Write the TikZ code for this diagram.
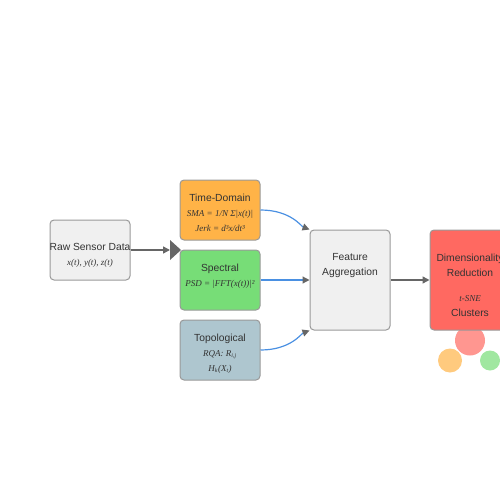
\documentclass[tikz,border=0pt]{standalone}
\usepackage{fontspec}
\setmainfont{Liberation Sans}
\newfontfamily\formfont{Liberation Serif}
\usetikzlibrary{positioning, calc, arrows.meta, backgrounds}

\definecolor{boxgray}{HTML}{F0F0F0}
\definecolor{edgegray}{HTML}{999999}
\definecolor{arrowgray}{HTML}{666666}
\definecolor{flowblue}{HTML}{4A90E2}
\definecolor{timeorange}{HTML}{FFB347}
\definecolor{specgreen}{HTML}{77DD77}
\definecolor{topoblue}{HTML}{AEC6CF}
\definecolor{dimred}{HTML}{FF6961}
\definecolor{textgray}{HTML}{333333}

\begin{document}
\begin{tikzpicture}[x=1pt, y=-1pt,
	box/.style={draw=edgegray, line width=1pt, rounded corners=4pt, minimum width=80pt, minimum height=60pt, inner sep=0pt},
	tallbox/.style={box, minimum height=100pt},
	label/.style={anchor=north, align=center, inner sep=0pt, text=textgray, font=\fontsize{10.3}{15}\selectfont},
	link/.style={draw=arrowgray, line width=1.5pt, -{Triangle[length=7pt, width=7pt]}},
	flow/.style={draw=flowblue, line width=1.2pt, -{Triangle[length=7pt, width=7pt, color=arrowgray]}},
	blob/.style={opacity=0.7}]
			\newcommand{\fm}[1]{{\formfont\itshape\fontsize{9}{15}\selectfont #1}}
			\clip (0,0) rectangle (500,500);
			
			% Draw boxes
			\node[box, fill=boxgray] (raw) at (90,250) {};
			\node[box, fill=timeorange] (time) at (220,210) {};
			\node[box, fill=specgreen] (spec) at (220,280) {};
			\node[box, fill=topoblue] (topo) at (220,350) {};
			\node[tallbox, fill=boxgray] (feat) at (350,280) {};
			\node[tallbox, fill=dimred] (dim) at (470,280) {};
			
			% Box texts
			\node[label] (raw-text) at ($(raw.north)+(0,24)$) {Raw Sensor Data\\\fm{x(t), y(t), z(t)}};
			\node[label] (time-text) at ($(time.north)+(0,14)$) {Time-Domain\\\fm{SMA = 1/N Σ|x(t)|}\\\fm{Jerk = d³x/dt³}};
			\node[label] (spec-text) at ($(spec.north)+(0,14)$) {Spectral\\\fm{PSD = |FFT(x(t))|²}};
			\node[label] (topo-text) at ($(topo.north)+(0,14)$) {Topological\\\fm{RQA: R\textsubscript{i,j}}\\\fm{H\textsubscript{k}(X\textsubscript{t})}};
			\node[label] (feat-text) at ($(feat.north)+(0,24)$) {Feature\\Aggregation};
			\node[label] (dim-text) at ($(dim.north)+(0,24)$) {Dimensionality\\Reduction\\[10pt]\fm{t-SNE}\\Clusters};
			
			% Fan out
			\coordinate (split) at (170,250);
			\draw[link] (raw.east) -- (split);
			\fill[arrowgray] (split)++(0,-10) -- ++(11,10) -- ++(-11,10) -- cycle;
			
			% Feature flows
			\draw[flow] (time.east) .. controls +(30,0) and +(-8,-3) .. (feat.north west);
			\draw[flow] (spec.east) -- (feat.west);
			\draw[flow] (topo.east) .. controls +(30,0) and +(-8,3) .. (feat.south west);
			\draw[link] (feat.east) -- (dim.west);
			
			% Clusters
			\begin{scope}[on background layer]
				\fill[blob, dimred] ($(dim.south)+(0,10)$) circle (15);
				\fill[blob, timeorange] ($(dim.south)+(-20,30)$) circle (12);
				\fill[blob, specgreen] ($(dim.south)+(20,30)$) circle (10);
			\end{scope}
		\end{tikzpicture}
\end{document}
